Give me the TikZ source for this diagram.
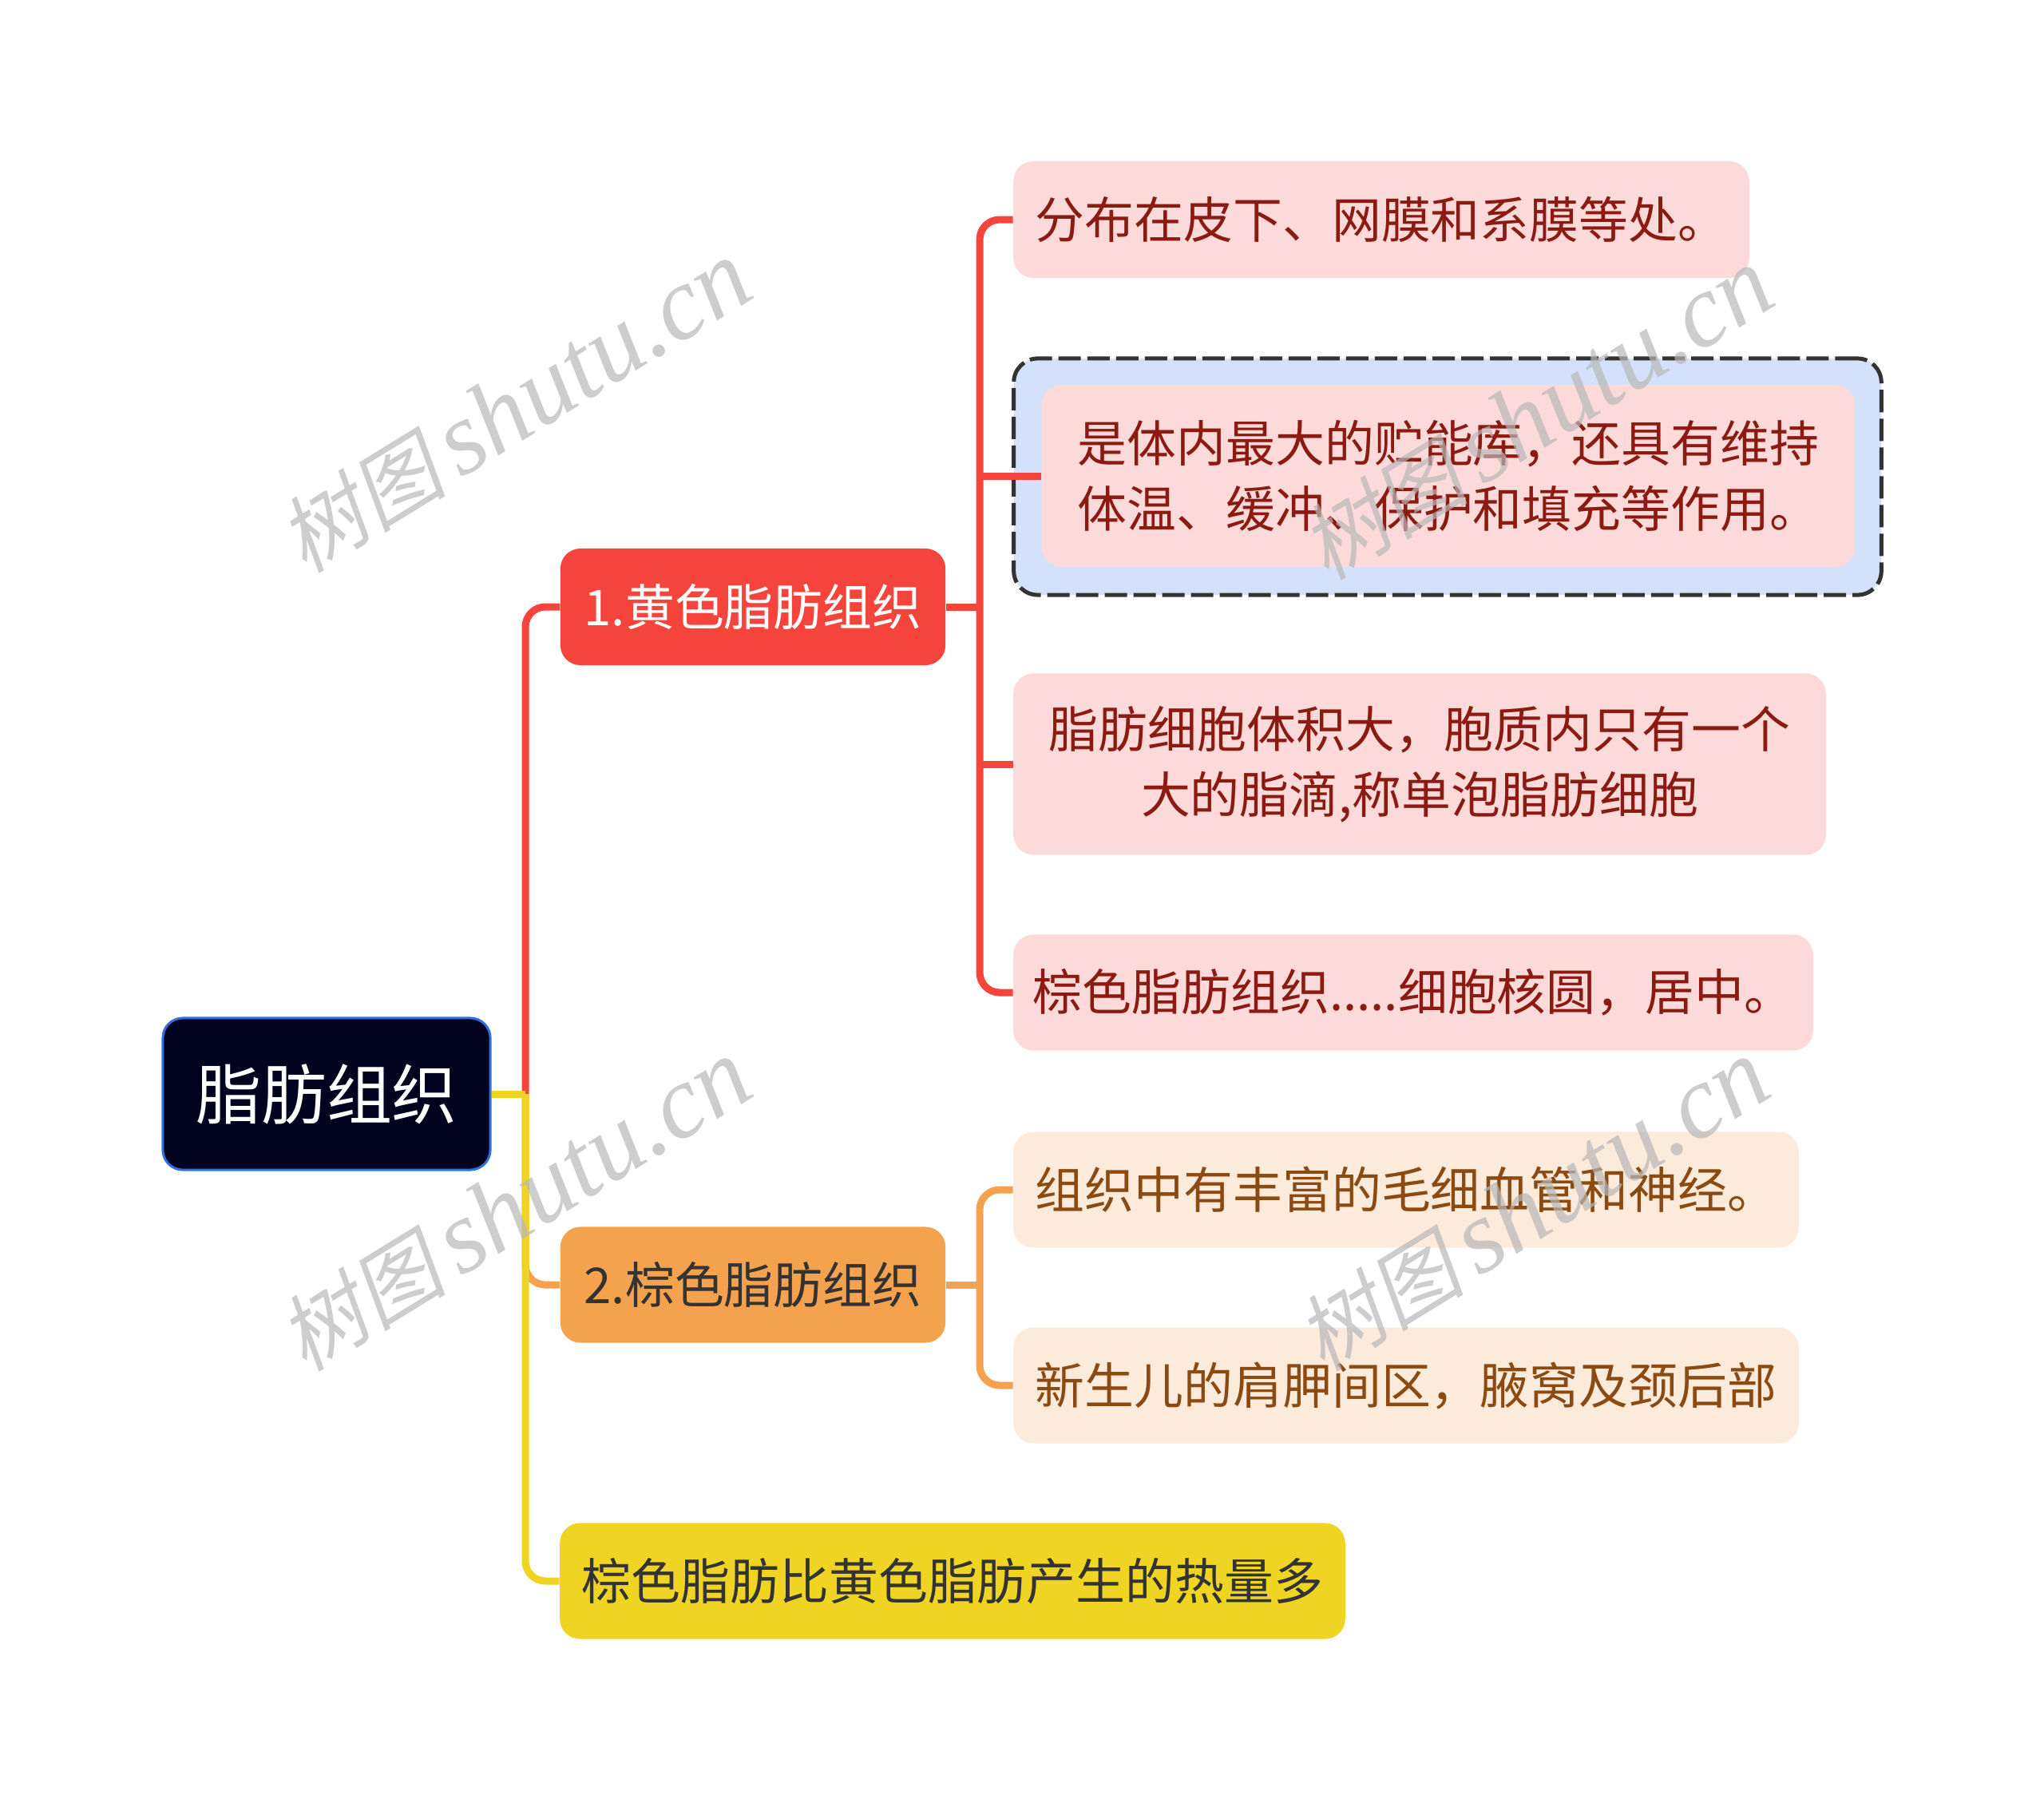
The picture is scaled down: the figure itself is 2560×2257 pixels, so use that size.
\documentclass[tikz,border=0pt]{standalone}
\usepackage{fontspec}
\setmainfont{Noto Sans CJK SC}
\newfontfamily\wmcjk[FakeSlant=0.2]{Noto Sans CJK SC}
\newfontfamily\wmlat{Liberation Serif}
\definecolor{cred}{HTML}{F5443B}
\definecolor{cpink}{HTML}{FDDADA}
\definecolor{credtxt}{HTML}{8B1A13}
\definecolor{corange}{HTML}{F5A24E}
\definecolor{cpeach}{HTML}{FCEADB}
\definecolor{cbrowntxt}{HTML}{8A4A12}
\definecolor{cyellow}{HTML}{F0D424}
\definecolor{croot}{HTML}{02031F}
\definecolor{crootborder}{HTML}{2F6FE0}
\definecolor{cblue}{HTML}{D3E2FA}
\definecolor{cdash}{HTML}{333333}
\definecolor{cdark}{HTML}{333333}
\definecolor{cwm}{HTML}{B8B8B8}
\tikzset{
  basebox/.style={inner sep=0pt, rounded corners=0.25cm, align=center,
    font=\fontsize{17.6}{23.3}\selectfont},
  rootbox/.style={basebox, fill=croot, draw=crootborder, line width=0.03cm,
    text=white, font=\fontsize{23.3}{28}\selectfont},
  mainred/.style={basebox, fill=cred, text=white},
  mainorange/.style={basebox, fill=corange, text=cdark},
  mainyellow/.style={basebox, fill=cyellow, text=cdark},
  leafred/.style={basebox, fill=cpink, text=credtxt},
  leaforange/.style={basebox, fill=cpeach, text=cbrowntxt},
  dashbox/.style={inner sep=0pt, fill=cblue, draw=cdash, line width=0.05cm,
    dash pattern=on 0.28cm off 0.08cm, rounded corners=0.3cm},
  conn/.style={line width=0.09cm, rounded corners=0.25cm},
  watermark/.style={rotate=31.6, text=cwm, opacity=0.7, inner sep=0pt},
  wmtext/.style={},
}
\newcommand{\wmark}{\wmcjk\fontsize{30}{30}\selectfont 树图\,\wmlat\itshape\fontsize{37}{37}\selectfont shutu.cn}
\begin{document}
\begin{tikzpicture}[x=0.01cm, y=-0.01cm]
\useasboundingbox (0,0) rectangle (2560,2257);
% root
\node[rootbox, minimum width=4.10cm, minimum height=1.90cm] (root) at (409,1370) {脂肪组织};
% main branches
\node[mainred, minimum width=4.82cm, minimum height=1.46cm] (n1) at (943,760) {1.黄色脂肪组织};
\node[mainorange, minimum width=4.82cm, minimum height=1.45cm] (n2) at (943,1609) {2.棕色脂肪组织};
\node[mainyellow, minimum width=9.83cm, minimum height=1.45cm] (n3) at (1193,1980) {棕色脂肪比黄色脂肪产生的热量多};
% red leaves
\node[leafred, minimum width=9.21cm, minimum height=1.46cm] (c1a) at (1730,275) {分布在皮下、网膜和系膜等处。};
\node[dashbox, minimum width=10.86cm, minimum height=2.96cm] (c1bo) at (1813,597) {};
\node[leafred, align=left, minimum width=10.18cm, minimum height=2.28cm] (c1b) at (1814,596) {是体内最大的贮能库，还具有维持\\体温、缓冲、保护和填充等作用。};
\node[leafred, minimum width=10.17cm, minimum height=2.27cm] (c1c) at (1778,957) {脂肪细胞体积大，胞质内只有一个\\大的脂滴,称单泡脂肪细胞};
\node[leafred, minimum width=10.01cm, minimum height=1.45cm] (c1d) at (1770,1243) {棕色脂肪组织.....细胞核圆，居中。};
% orange leaves
\node[leaforange, minimum width=9.83cm, minimum height=1.45cm] (c2a) at (1761,1490) {组织中有丰富的毛细血管和神经。};
\node[leaforange, minimum width=9.83cm, minimum height=1.45cm] (c2b) at (1761,1735) {新生儿的肩胛间区，腋窝及颈后部};
% junction coordinates
\coordinate (tk) at (658,1370);
\coordinate (j1) at (1227,760);
\coordinate (j2) at (1227,1609);
% trunk connectors
\draw[conn, cred] (tk) |- (n1.west);
\draw[conn, corange] (tk) |- (n2.west);
\draw[conn, cyellow] (tk) |- (n3.west);
\draw[conn, cyellow, sharp corners] (root.east) -- (tk);
% red children
\draw[conn, cred] (n1.east) -- (j1);
\draw[conn, cred] (j1) |- (c1a.west);
\draw[conn, cred] (j1) |- (c1d.west);
\draw[conn, cred, sharp corners] (c1b.west -| j1) -- (c1b.west);
\draw[conn, cred, sharp corners] (c1c.west -| j1) -- (c1c.west);
% orange children
\draw[conn, corange] (n2.east) -- (j2);
\draw[conn, corange] (j2) |- (c2a.west);
\draw[conn, corange] (j2) |- (c2b.west);
% watermarks
\node[watermark] (wm1) at (645,510) {\wmark};
\node[watermark] (wm2) at (645,1510) {\wmark};
\node[watermark] (wm3) at (1925,519) {\wmark};
\node[watermark] (wm4) at (1920,1510) {\wmark};
\end{tikzpicture}
\end{document}
